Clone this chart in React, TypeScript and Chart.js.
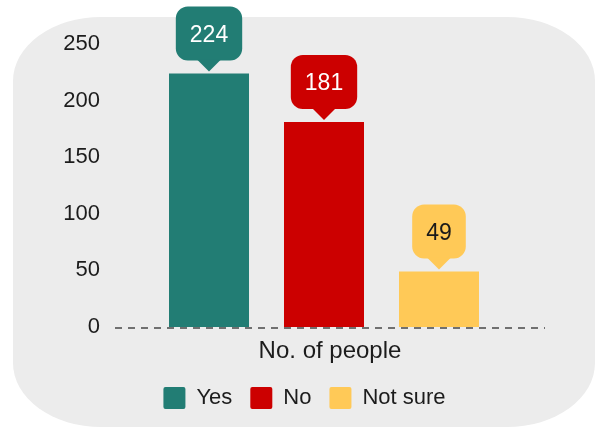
import { useEffect, useRef } from 'react';
import { Chart, registerables } from 'chart.js';

Chart.register(...registerables);

const categories = ['No. of people'];
const seriesNames = ['Yes', 'No', 'Not sure'];
const yesValues = [224];
const noValues = [181];
const notSureValues = [49];
const yTickStep = 50;
const yMin = 0;
const yMax = 250;
const seriesColors = ['#227D74', '#CC0000', '#FFC957'];
const calloutTextColors = ['#ffffff', '#ffffff', '#1a1a1a'];

const FONT = "'Liberation Sans', Arial, sans-serif";
const TEXT = '#1c1c1c';

const backgroundPlugin = {
  id: 'roundedBackground',
  beforeDraw(chart: any) {
    const ctx = chart.ctx as CanvasRenderingContext2D;
    const x = 13, y = 17, w = 582, h = 410, rx = 88, ry = 64;
    ctx.save();
    ctx.fillStyle = '#ECECEC';
    ctx.beginPath();
    ctx.moveTo(x + rx, y);
    ctx.lineTo(x + w - rx, y);
    ctx.ellipse(x + w - rx, y + ry, rx, ry, 0, -Math.PI / 2, 0);
    ctx.lineTo(x + w, y + h - ry);
    ctx.ellipse(x + w - rx, y + h - ry, rx, ry, 0, 0, Math.PI / 2);
    ctx.lineTo(x + rx, y + h);
    ctx.ellipse(x + rx, y + h - ry, rx, ry, 0, Math.PI / 2, Math.PI);
    ctx.lineTo(x, y + ry);
    ctx.ellipse(x + rx, y + ry, rx, ry, 0, Math.PI, Math.PI * 1.5);
    ctx.closePath();
    ctx.fill();
    ctx.restore();
  },
};

const baselinePlugin = {
  id: 'dashedBaseline',
  beforeDatasetsDraw(chart: any) {
    const ctx = chart.ctx as CanvasRenderingContext2D;
    const area = chart.chartArea;
    const y0 = chart.scales.y.getPixelForValue(0) + 1;
    ctx.save();
    ctx.strokeStyle = '#707070';
    ctx.lineWidth = 2;
    ctx.setLineDash([7, 6]);
    ctx.beginPath();
    ctx.moveTo(area.left + 12, y0);
    ctx.lineTo(area.right, y0);
    ctx.stroke();
    ctx.restore();
  },
};

const calloutPlugin = {
  id: 'callouts',
  afterDatasetsDraw(chart: any) {
    const ctx = chart.ctx as CanvasRenderingContext2D;
    const fontSize = 23;
    ctx.save();
    ctx.font = `${fontSize}px ${FONT}`;
    chart.data.datasets.forEach((ds: any, i: number) => {
      const meta = chart.getDatasetMeta(i);
      meta.data.forEach((bar: any, j: number) => {
        const text = String(ds.data[j]);
        const tw = ctx.measureText(text).width;
        const w = tw + 28;
        const h = 54;
        const r = 12;
        const tipH = 11;
        const tipHalf = 12;
        const gap = 2;
        const x = bar.x;
        const tipY = bar.y - gap;
        const bottom = tipY - tipH;
        const top = bottom - h;
        const left = x - w / 2;
        ctx.fillStyle = seriesColors[i];
        ctx.beginPath();
        (ctx as any).roundRect(left, top, w, h, r);
        ctx.fill();
        ctx.beginPath();
        ctx.moveTo(x - tipHalf, bottom - 1);
        ctx.lineTo(x + tipHalf, bottom - 1);
        ctx.lineTo(x, tipY);
        ctx.closePath();
        ctx.fill();
        ctx.fillStyle = calloutTextColors[i];
        ctx.textAlign = 'center';
        ctx.textBaseline = 'alphabetic';
        ctx.fillText(text, x, (top + bottom) / 2 + 0.358 * fontSize);
      });
    });
    ctx.restore();
  },
};

export default function App() {
  const canvasRef = useRef<HTMLCanvasElement | null>(null);

  useEffect(() => {
    document.body.style.margin = '0';
    const canvas = canvasRef.current;
    if (!canvas) return;
    const seriesValues = [yesValues, noValues, notSureValues];
    const chart = new Chart(canvas, {
      type: 'bar',
      data: {
        labels: categories,
        datasets: seriesNames.map((name, i) => ({
          label: name,
          data: seriesValues[i],
          backgroundColor: seriesColors[i],
          borderColor: seriesColors[i],
          borderWidth: 0,
          barPercentage: 0.6957,
          categoryPercentage: 0.7805,
        })),
      },
      options: {
        responsive: false,
        animation: false,
        devicePixelRatio: 1,
        layout: { padding: { left: 64, right: 54, top: 44, bottom: 8 } },
        plugins: {
          legend: {
            position: 'bottom',
            labels: {
              boxWidth: 22,
              boxHeight: 22,
              padding: 18,
              color: TEXT,
              font: { size: 22, family: FONT },
              useBorderRadius: true,
              borderRadius: 2,
            },
          },
          tooltip: { enabled: false },
        },
        scales: {
          x: {
            grid: { display: false, drawTicks: false },
            border: { display: false },
            ticks: {
              color: TEXT,
              font: { size: 24, family: FONT },
              padding: 10,
              labelOffset: 6,
            },
            afterFit: (scale: any) => {
              scale.height = 42;
            },
          },
          y: {
            min: yMin,
            max: yMax,
            grid: { display: false, drawTicks: false },
            border: { display: false },
            ticks: {
              stepSize: yTickStep,
              color: TEXT,
              font: { size: 22, family: FONT },
              padding: 3,
            },
            afterFit: (scale: any) => {
              scale.width = 39;
            },
          },
        },
      },
      plugins: [backgroundPlugin, baselinePlugin, calloutPlugin],
    } as any);
    return () => chart.destroy();
  }, []);

  return (
    <div style={{ width: 599, height: 427, position: 'relative' }}>
      <canvas ref={canvasRef} width={599} height={427} style={{ display: 'block' }} />
    </div>
  );
}
